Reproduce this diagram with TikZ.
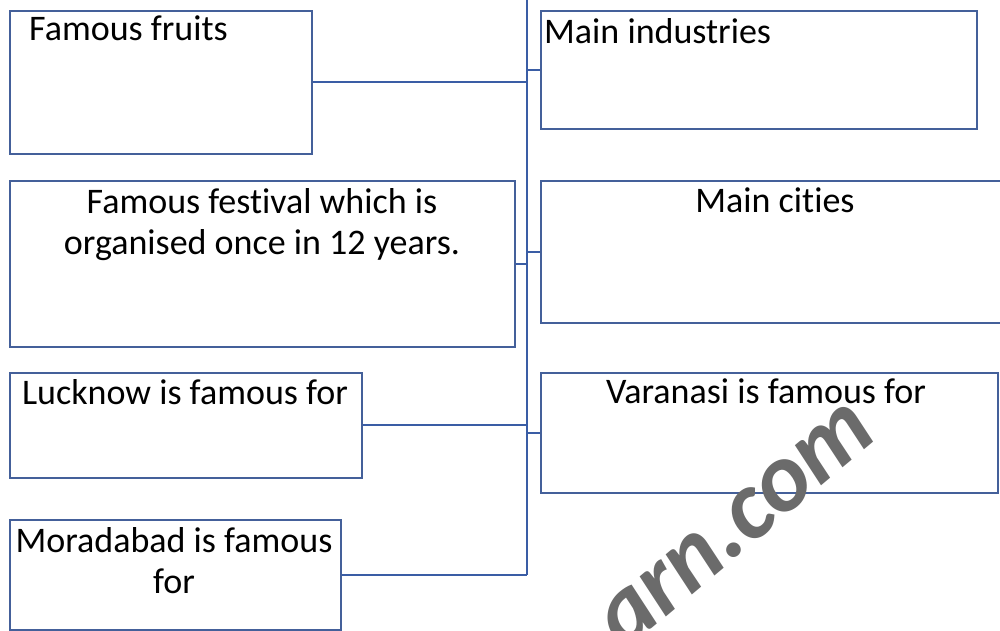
\documentclass[tikz,border=0pt]{standalone}
\usepackage{fontspec}
\setmainfont{Carlito}[Ligatures=NoCommon]
\definecolor{boxline}{HTML}{44609A}
\definecolor{conline}{HTML}{3A5DA5}
\definecolor{wmgray}{HTML}{6B6B6B}
\tikzset{
  box/.style={draw=boxline, line width=1.6pt, anchor=north west, inner sep=0pt, fill=white},
  lbl/.style={font=\fontsize{36}{41}\selectfont, inner sep=0pt, anchor=north, align=center, text=black},
  con/.style={draw=conline, line width=1.8pt},
}
\begin{document}
\begin{tikzpicture}[x=1pt,y=-1pt]
\useasboundingbox (0,0) rectangle (1000,630);
% connector trunk
\coordinate (top) at (527,0);
% boxes
\node[box, minimum width=302, minimum height=143] (fruits) at (9,10) {};
\node[box, minimum width=436, minimum height=118] (ind) at (540,10) {};
\node[box, minimum width=505, minimum height=166] (fest) at (9,180) {};
\node[box, minimum width=470, minimum height=142] (cities) at (540,180) {};
\node[box, minimum width=352, minimum height=105] (luck) at (9,372) {};
\node[box, minimum width=457, minimum height=120] (vara) at (540,372) {};
\node[box, minimum width=331, minimum height=110] (mora) at (9,519) {};
% connectors
\draw[con] (top) -- (top |- mora.east);
\draw[con] (fruits.east) -- (fruits.east -| top);
\draw[con] (fest.east) -- (fest.east -| top);
\draw[con] (luck.east) -- (luck.east -| top);
\draw[con] (mora.east) -- (mora.east -| top);
\draw[con] (ind.west) -- (ind.west -| top);
\draw[con] (cities.west) -- (cities.west -| top);
\draw[con] (vara.west) -- (vara.west -| top);
% labels
\node[lbl, anchor=north west] (tfruits) at (29,16) {Famous fruits};
\node[lbl, anchor=north west] (tind) at (544,18) {Main industries};
\node[lbl] (tfest) at (262,188) {Famous festival which is\\organised once in 12 years.};
\node[lbl] (tcities) at (775,188) {Main cities};
\node[lbl] (tluck) at (185,379) {Lucknow is famous for};
\node[lbl] (tvara) at (766,379) {Varanasi is famous for};
\node[lbl] (tmora) at (174,527) {Moradabad is famous\\for};
% watermark
\node[wmgray, font=\bfseries\itshape\fontsize{98}{98}\selectfont, rotate=40, inner sep=0pt] (wm) at (737,526) {arn.com};
\end{tikzpicture}
\end{document}
